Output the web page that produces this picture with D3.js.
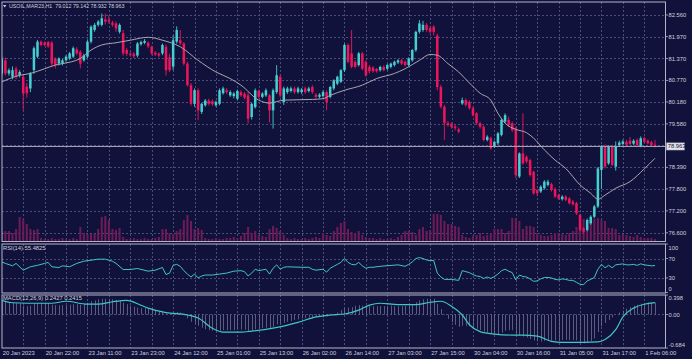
<!DOCTYPE html>
<html>
<head>
<meta charset="utf-8">
<script src="https://cdn.jsdelivr.net/npm/d3@7/dist/d3.min.js"></script>
<style>
html,body{margin:0;padding:0;background:#11123b;overflow:hidden;}
svg{display:block;}
</style>
</head>
<body>
<svg id="chart" width="692" height="359"></svg>
<script>
// ---------------- DATA ----------------
const symbolTitle = "USOIL,MAR23,H1";
const lastOHLC = [79.012, 79.142, 78.932, 78.963];

const opens = [
80.96,81.32,80.96,80.87,81.09,80.92,80.87,80.60,80.55,81.05,
81.42,81.83,81.80,81.82,81.80,81.37,81.23,81.23,
81.32,81.37,81.42,81.62,81.55,81.32,81.42,81.83,82.15,82.29,
82.29,82.44,82.42,82.35,82.33,82.10,82.06,81.60,81.50,
81.50,81.45,81.76,81.80,81.80,81.69,81.53,81.50,81.51,81.69,
81.40,81.15,81.83,81.87,81.78,81.23,80.64,80.13,80.50,79.91,
80.09,80.22,80.20,80.09,80.13,80.42,80.50,80.36,80.34,80.27,
80.45,80.41,80.36,79.77,80.04,80.48,80.32,80.36,80.36,79.95,
80.45,80.87,80.18,80.45,80.48,80.55,80.45,80.45,80.55,80.48,80.59,
80.38,80.32,80.34,80.45,80.32,80.55,80.68,80.73,81.05,81.74,
81.51,81.28,81.19,81.51,81.28,81.14,81.12,
81.08,81.05,81.14,81.09,81.14,81.19,81.26,81.32,81.28,81.19,
81.32,81.60,82.10,82.15,82.29,82.20,82.24,82.00,80.59,80.05,
79.60,79.58,79.51,79.43,80.14,80.23,80.18,80.01,79.87,79.60,
79.50,79.14,79.19,78.96,79.05,79.28,79.64,79.69,79.60,79.46,
78.14,78.77,78.68,78.59,78.27,77.77,77.73,77.82,77.91,
77.93,77.80,77.63,77.52,77.59,77.54,77.45,77.41,77.09,76.72,
76.68,76.86,77.04,77.32,78.32,78.96,78.50,78.96,78.41,79.00,79.03,79.09,
79.12,79.04,79.14,78.98,79.19,79.12,79.08,79.012];

const highs = [
81.42,81.40,81.10,81.15,81.15,81.05,80.95,80.70,81.00,81.70,
81.88,81.86,81.84,81.85,81.85,81.40,81.40,81.36,
81.46,81.55,81.70,81.68,81.60,81.50,81.88,82.28,82.34,82.42,
82.60,82.60,82.55,82.40,82.38,82.33,82.15,81.66,81.56,
81.54,81.82,81.86,81.90,81.84,81.72,81.57,81.54,81.78,81.75,
81.50,82.00,82.25,82.15,81.82,81.28,80.70,80.55,80.55,80.16,
80.26,80.27,80.25,80.22,80.55,80.60,80.56,80.50,80.45,80.52,
80.50,80.45,80.45,80.16,80.55,80.52,80.45,80.55,80.40,80.55,
81.19,80.92,80.60,80.60,80.60,80.60,80.60,80.56,80.60,80.60,80.64,
80.42,80.42,80.50,80.50,80.62,80.80,80.90,81.08,81.78,81.78,
82.15,81.32,81.55,81.55,81.32,81.19,81.16,
81.11,81.17,81.18,81.22,81.26,81.31,81.35,81.36,81.32,81.40,
81.63,82.13,82.42,82.40,82.34,82.26,82.28,82.05,80.65,80.10,
79.66,79.62,79.56,79.48,80.30,80.28,80.22,80.05,79.90,79.64,
79.54,79.27,79.23,79.12,79.36,79.73,79.87,79.78,79.64,79.50,
78.80,79.87,78.72,78.63,78.30,77.80,77.90,78.04,78.05,
77.97,77.84,77.67,77.63,77.63,77.58,77.50,77.45,77.13,76.76,
76.99,77.08,77.36,78.40,79.00,79.02,79.00,79.01,79.10,79.12,79.15,79.14,
79.22,79.16,79.18,79.24,79.23,79.16,79.12,79.142];

const lows = [
80.90,80.90,80.90,80.80,80.80,80.85,79.95,80.30,80.45,80.95,
81.38,81.70,81.70,81.66,81.15,81.10,81.18,81.18,
81.28,81.33,81.38,81.46,81.10,81.28,81.38,81.78,82.10,82.24,
82.25,82.30,82.32,82.24,82.10,82.05,81.45,81.44,81.42,
81.38,81.40,81.72,81.76,81.65,81.46,81.44,81.40,81.46,80.90,
81.00,81.05,81.78,81.74,81.18,80.60,80.08,80.05,79.68,79.85,
80.05,80.08,80.07,80.05,80.09,80.38,80.40,80.32,80.28,80.22,
80.32,80.25,79.59,79.70,80.00,80.28,80.28,80.32,79.62,79.45,
80.40,80.30,80.10,80.40,80.44,80.40,80.41,80.40,80.40,80.44,80.40,
80.28,80.28,80.30,79.95,80.28,80.50,80.64,80.70,81.00,81.24,
81.10,81.10,81.15,81.05,80.87,80.96,80.98,
80.98,81.01,81.02,81.05,81.10,81.15,81.22,81.19,81.15,81.15,
81.28,81.55,82.05,82.10,82.10,82.05,82.00,80.50,80.00,79.14,
79.50,79.45,79.40,79.32,80.10,80.05,79.97,79.78,79.55,79.45,
79.10,79.10,78.87,78.92,79.00,79.24,79.60,79.50,79.36,78.10,
78.10,78.46,78.50,78.14,77.64,77.60,77.69,77.78,77.87,
77.73,77.55,77.50,77.48,77.46,77.37,77.34,77.09,76.64,76.58,
76.64,76.82,77.00,77.28,77.80,78.36,78.46,78.42,78.30,78.96,79.00,78.98,
79.00,79.00,78.96,78.94,79.05,79.02,78.97,78.932];

const closes = [
81.35,80.96,81.05,81.05,80.87,81.00,80.41,80.42,80.96,81.65,
81.83,81.74,81.74,81.70,81.23,81.19,81.37,81.32,
81.42,81.51,81.65,81.51,81.23,81.45,81.83,82.24,82.29,82.38,
82.47,82.38,82.38,82.29,82.19,82.29,81.51,81.50,81.47,
81.43,81.78,81.82,81.85,81.70,81.51,81.48,81.45,81.74,81.05,
81.05,81.87,82.15,81.78,81.23,80.64,80.13,80.50,79.95,80.13,
80.22,80.13,80.12,80.18,80.50,80.55,80.45,80.45,80.41,80.48,
80.36,80.30,79.72,80.13,80.50,80.32,80.41,80.50,79.95,80.50,
80.91,80.36,80.55,80.55,80.55,80.45,80.55,80.52,80.45,80.55,80.45,
80.32,80.38,80.45,80.18,80.59,80.77,80.87,81.05,81.74,81.28,
81.14,81.14,81.51,81.09,80.91,81.02,81.02,
81.02,81.14,81.05,81.19,81.23,81.28,81.32,81.23,81.19,81.37,
81.60,82.10,82.33,82.29,82.15,82.10,82.10,80.59,80.05,79.60,
79.55,79.50,79.46,79.37,80.23,80.10,80.01,79.82,79.60,79.50,
79.14,79.23,78.91,79.09,79.32,79.69,79.82,79.55,79.41,78.18,
78.77,78.50,78.55,78.18,77.68,77.68,77.86,78.00,78.00,
77.77,77.59,77.54,77.59,77.50,77.41,77.38,77.13,76.68,76.63,
76.95,77.04,77.32,78.36,78.96,78.41,78.96,78.46,78.96,79.07,79.10,79.01,
79.03,79.12,79.00,79.19,79.09,79.05,79.00,78.963];

const volumes = [
10,10,10,8,12,24,22,17,12,11,12,3,
2,2,3,2,2,3,2,2,3,2,
14,8,7,7,7,12,24,25,21,12,11,13,4,2,
2,3,2,2,3,2,2,3,
4,12,12,8,7,10,12,21,26,20,12,13,11,3,2,
2,3,2,2,3,
3,4,3,5,8,14,8,
10,6,5,4,12,15,13,10,6,3,
2,3,2,2,3,2,3,4,3,8,6,5,
10,14,18,20,12,9,8,10,
6,4,3,3,2,3,2,2,3,2,4,6,
10,10,9,6,12,14,10,11,
27,27,26,20,17,17,15,14,
6,4,3,5,6,8,5,6,8,
12,12,12,8,10,23,23,20,12,
15,15,14,8,6,5,5,6,8,
8,7,6,8,10,14,25,22,12,20,
22,23,21,20,13,13,12,6,
7,6,5,4,6,4,3,3,3,2];

// moving average: [bar, price]
const maLine = [[0,80.73],[5,80.91],[8,80.96],[12,81.09],[15,81.19],[17,81.23],[22,81.37],[25,81.60],[28,81.74],[32,81.80],[36,81.87],[41,81.95],[45,81.87],[50,81.69],[55,81.32],[60,81.00],[64,80.82],[67,80.64],[72,80.23],[75,80.15],[79,80.23],[87,80.25],[90,80.27],[92,80.36],[96,80.50],[101,80.64],[105,80.82],[110,80.96],[113,81.09],[117,81.32],[120,81.48],[122,81.46],[125,81.23],[128,81.00],[131,80.70],[134,80.42],[137,80.23],[139,79.87],[141,79.60],[144,79.43],[147,79.34],[149,79.19],[152,78.87],[155,78.59],[158,78.36],[162,77.91],[165,77.68],[167,77.52],[169,77.63],[172,77.82],[176,78.00],[180,78.35],[183,78.64]];

// RSI(14): [bar, value]
const rsiLine = [[0,63],[1,60],[3,55],[4,60],[6,46],[8,53],[10,56],[12,60],[13,62],[14,53],[16,51.5],[17,55],[19,53],[21,60],[23,64.5],[25,66.6],[27,68.7],[29,68.7],[31,64.5],[32,60],[34,47.4],[36,47.4],[38,49.5],[41,44],[43,46],[45,51.5],[46,37],[47,40],[48,56],[49,58],[50,54],[51,45],[52,38],[53,32],[54,38],[55,30],[56,34],[57,36],[59,36],[61,38],[63,40],[65,44],[67,45],[68,43],[69,34],[70,40],[71,48],[72,45],[74,48],[75,38],[76,50],[77,57],[78,48],[79,52],[80,53],[84,52],[86,52],[87,48],[88,46],[90,48],[91,42],[92,50],[93,54],[94,58],[95,62],[96,70],[97,62],[98,58],[99,57],[100,62],[101,55],[102,50],[103,52],[104,52],[106,54],[111,57],[113,54],[114,58],[115,63],[116,70],[117,72],[118,70],[119,67],[120,66],[121,66],[122,40],[123,32],[124,27],[125,27],[126,27],[127,26],[128,25],[129,45],[130,43],[131,41],[132,37],[133,34],[134,33],[135,29],[136,32],[137,29],[138,33],[139,38],[140,45],[141,48],[142,44],[143,41],[144,26],[145,36],[146,33],[147,32],[148,28],[149,23],[150,24],[151,28],[152,31],[153,31],[154,30],[155,27],[156,26],[157,28],[158,27],[159,25],[160,25],[161,21],[162,17],[163,16],[164,24],[165,27],[166,31],[167,48],[168,58],[169,51],[170,56],[171,51],[172,57],[173,58],[174,59],[175,57],[176,57],[177,58],[178,56],[179,59],[180,57],[181,56],[182,55],[183,55.48]];

// MACD main (histogram), one per bar
const macdHist = [
0.27,0.26,0.25,0.24,0.23,0.22,0.18,0.17,0.18,0.21,
0.23,0.24,0.24,0.23,0.20,0.19,0.19,0.19,0.19,0.20,
0.21,0.21,0.20,0.21,0.24,0.27,0.29,0.31,0.32,0.32,
0.32,0.31,0.30,0.29,0.24,0.21,0.18,0.16,0.14,0.13,
0.13,0.12,0.10,0.08,0.06,0.05,0.02,0.01,0.03,0.05,
0.04,-0.01,-0.08,-0.15,-0.19,-0.23,-0.27,-0.30,-0.32,-0.33,
-0.33,-0.33,-0.32,-0.32,-0.32,-0.32,-0.31,-0.31,-0.31,-0.34,
-0.33,-0.30,-0.29,-0.28,-0.27,-0.28,-0.25,-0.20,-0.19,-0.17,
-0.15,-0.13,-0.11,-0.10,-0.08,-0.07,-0.06,-0.06,-0.05,-0.05,
-0.06,-0.04,-0.02,0.01,0.04,0.09,0.13,0.14,0.15,0.18,
0.19,0.18,0.17,0.17,0.17,0.17,0.17,0.17,0.17,0.18,
0.17,0.17,0.17,0.18,0.19,0.21,0.25,0.29,0.31,0.32,
0.32,0.32,0.22,0.11,-0.01,-0.09,-0.16,-0.21,-0.25,-0.23,
-0.23,-0.24,-0.26,-0.29,-0.32,-0.35,-0.37,-0.40,-0.41,-0.40,
-0.37,-0.33,-0.32,-0.32,-0.41,-0.43,-0.45,-0.47,-0.50,-0.53,
-0.55,-0.55,-0.54,-0.53,-0.53,-0.53,-0.53,-0.52,-0.52,-0.52,
-0.52,-0.53,-0.56,-0.59,-0.57,-0.54,-0.49,-0.36,-0.24,-0.17,
-0.11,-0.06,0.00,0.04,0.08,0.12,0.15,0.18,0.20,0.22,
0.23,0.24,0.245,0.2427];

// MACD signal: [bar, value]
const macdSignal = [[0,0.29],[3,0.24],[7,0.23],[14,0.23],[18,0.27],[24,0.21],[27,0.21],[31,0.26],[35,0.29],[39,0.19],[41,0.13],[46,0.04],[52,-0.01],[55,-0.07],[59,-0.28],[62,-0.36],[67,-0.36],[70,-0.34],[76,-0.28],[83,-0.16],[88,-0.05],[92,-0.01],[96,0.01],[100,0.09],[103,0.19],[106,0.23],[111,0.20],[116,0.20],[120,0.25],[123,0.27],[126,0.17],[129,-0.01],[131,-0.21],[134,-0.35],[138,-0.40],[143,-0.42],[146,-0.42],[150,-0.44],[154,-0.55],[157,-0.57],[163,-0.57],[167,-0.56],[169,-0.51],[172,-0.31],[174,-0.05],[177,0.13],[180,0.21],[183,0.2415]];

const priceTicks = [82.560,81.970,81.370,80.770,80.180,79.580,78.390,77.800,77.200,76.600];
const extraGrid = [78.990];
const timeTickBars = [0,12,24,36,48,60,72,84,96,108,120,132,144,156,168,180];
const timeTickLabels = ["20 Jan 2023","20 Jan 22:00","23 Jan 11:00","23 Jan 23:00","24 Jan 12:00","25 Jan 01:00","25 Jan 13:00","26 Jan 02:00","26 Jan 14:00","27 Jan 03:00","27 Jan 15:00","30 Jan 04:00","30 Jan 16:00","31 Jan 05:00","31 Jan 17:00","1 Feb 06:00"];
const rsiTicks = [100,70,30,0];
const rsiLevels = [70,30];
const macdTicks = [0.398,0.00,-0.684];
const macdTickLabels = ["0.398","0.00","-0.684"];
const rsiTitle = "RSI(14) 55.4825";
const macdTitle = "MACD(12,26,9) 0.2427 0.2415";

// ---------------- DRAW ----------------
const W = 692, H = 359, L = 2, R = 665.5;
const P = {main:[2,241.5], rsi:[244,293], macd:[295,348]};
const BG = "#11123b", GRID = "#4a4c7a", TXT = "#cfd0dc", FRAME = "#b4b4c8";
const UP = "#45cfd0", DN = "#f0145c", VOL = "#6e1c58", MA = "#a7a7b0", LINE = "#3fc6c6", HIST = "#6f7090";
const FONT = "'Liberation Sans', Arial, sans-serif";

const svg = d3.select("#chart");
const n = closes.length;
const x = d3.scaleLinear().domain([0, n - 1]).range([1.8, 655]);
const yP = d3.scaleLinear().domain([76.6, 82.56]).range([232.8, 15]);
const yV = d3.scaleLinear().domain([0, 30]).range([241, 211]);
const yR = d3.scaleLinear().domain([0, 100]).range([292.5, 244]);
const yM = d3.scaleLinear().domain([-0.684, 0.398]).range([348, 295]);

svg.append("rect").attr("width", W).attr("height", H).attr("fill", BG);

const defs = svg.append("defs");
Object.entries(P).forEach(([k, [t, b]]) => {
  defs.append("clipPath").attr("id", "clip-" + k).append("rect")
    .attr("x", L).attr("y", t).attr("width", R - L).attr("height", b - t);
});

// vertical grid in every panel
const vGridBars = d3.range(6, n, 6);
Object.values(P).forEach(([t, b]) => {
  svg.append("g").selectAll("line").data(vGridBars).join("line")
    .attr("x1", d => Math.round(x(d)) + 0.5).attr("x2", d => Math.round(x(d)) + 0.5)
    .attr("y1", t).attr("y2", b)
    .attr("stroke", GRID).attr("stroke-width", 1).attr("stroke-dasharray", "2,2");
});

// horizontal grids
function hgrid(vals, scale) {
  svg.append("g").selectAll("line").data(vals).join("line")
    .attr("x1", L).attr("x2", R)
    .attr("y1", d => Math.round(scale(d)) + 0.5).attr("y2", d => Math.round(scale(d)) + 0.5)
    .attr("stroke", GRID).attr("stroke-width", 1).attr("stroke-dasharray", "2,2");
}
hgrid(priceTicks.concat(extraGrid), yP);
hgrid(rsiLevels, yR);
hgrid([0], yM);

// volumes
const gMain = svg.append("g").attr("clip-path", "url(#clip-main)");
gMain.append("g").selectAll("rect").data(volumes).join("rect")
  .attr("x", (d, i) => x(i) - 1).attr("width", 2)
  .attr("y", d => yV(d)).attr("height", d => yV(0) - yV(d))
  .attr("fill", VOL);

// candles
const idx = d3.range(n);
const col = i => closes[i] >= opens[i] ? UP : DN;
gMain.append("g").selectAll("line").data(idx).join("line")
  .attr("x1", i => x(i)).attr("x2", i => x(i))
  .attr("y1", i => yP(highs[i])).attr("y2", i => yP(lows[i]))
  .attr("stroke", col).attr("stroke-width", 0.9);
gMain.append("g").selectAll("rect").data(idx).join("rect")
  .attr("x", i => x(i) - 1.25).attr("width", 2.5)
  .attr("y", i => yP(Math.max(opens[i], closes[i])))
  .attr("height", i => Math.max(1, Math.abs(yP(opens[i]) - yP(closes[i]))))
  .attr("fill", col);

// moving average
gMain.append("path").datum(maLine)
  .attr("d", d3.line().x(d => x(d[0])).y(d => yP(d[1])).curve(d3.curveMonotoneX))
  .attr("fill", "none").attr("stroke", MA).attr("stroke-width", 1);

// current price line
const last = closes[n - 1];
svg.append("line").attr("x1", L).attr("x2", R)
  .attr("y1", yP(last)).attr("y2", yP(last))
  .attr("stroke", "#a9a9b8").attr("stroke-width", 1);

// RSI
const gR = svg.append("g").attr("clip-path", "url(#clip-rsi)");
gR.append("path").datum(rsiLine)
  .attr("d", d3.line().x(d => x(d[0])).y(d => yR(d[1])))
  .attr("fill", "none").attr("stroke", LINE).attr("stroke-width", 1);

// MACD
const gM = svg.append("g").attr("clip-path", "url(#clip-macd)");
gM.append("g").selectAll("line").data(macdHist).join("line")
  .attr("x1", (d, i) => Math.round(x(i)) + 0.5).attr("x2", (d, i) => Math.round(x(i)) + 0.5)
  .attr("y1", yM(0)).attr("y2", d => yM(d))
  .attr("stroke", HIST).attr("stroke-width", 0.8);
gM.append("path").datum(macdSignal)
  .attr("d", d3.line().x(d => x(d[0])).y(d => yM(d[1])).curve(d3.curveMonotoneX))
  .attr("fill", "none").attr("stroke", LINE).attr("stroke-width", 1.2);

// frames
Object.values(P).forEach(([t, b]) => {
  svg.append("rect").attr("x", L).attr("y", t).attr("width", R - L).attr("height", b - t)
    .attr("fill", "none").attr("stroke", FRAME).attr("stroke-width", 1);
});

// right axis labels
const axT = svg.append("g").attr("font-family", FONT).attr("font-size", 5.8).attr("fill", TXT);
function rightLabels(vals, scale, fmt, adj) {
  vals.forEach((v, k) => {
    const yy = scale(v) + (adj ? adj(v, k) : 0);
    svg.append("line").attr("x1", R).attr("x2", R + 2.5).attr("y1", scale(v)).attr("y2", scale(v))
      .attr("stroke", FRAME).attr("stroke-width", 0.8);
    axT.append("text").attr("x", R + 3).attr("y", yy).attr("dy", "0.35em").text(fmt(v, k));
  });
}
rightLabels(priceTicks, yP, v => v.toFixed(3));
rightLabels(rsiTicks, yR, v => String(v), v => v === 100 ? 3.5 : (v === 0 ? -4 : 0));
rightLabels(macdTicks, yM, (v, k) => macdTickLabels[k], (v, k) => k === 0 ? 2.5 : (k === 2 ? -3 : 0));

// current price tag
const ly = yP(last);
svg.append("rect").attr("x", R + 1).attr("y", ly - 3.6).attr("width", 18).attr("height", 7.2)
  .attr("fill", "#e4e4ea").attr("stroke", "#9a9aa8").attr("stroke-width", 0.5);
svg.append("text").attr("x", R + 2.2).attr("y", ly).attr("dy", "0.35em")
  .attr("font-family", FONT).attr("font-size", 5.8).attr("fill", "#11123b").text(last.toFixed(3));

// time labels
svg.append("g").selectAll("text").data(timeTickBars).join("text")
  .attr("x", d => x(d) + 1).attr("y", 355)
  .attr("font-family", FONT).attr("font-size", 5.8).attr("fill", TXT)
  .text((d, k) => timeTickLabels[k]);

// titles
svg.append("path").attr("d", "M3,5 L6.4,5 L4.7,7.4 Z").attr("fill", TXT);
svg.append("text").attr("x", 9).attr("y", 8.2).attr("font-family", FONT).attr("font-size", 5.3)
  .attr("fill", TXT).attr("xml:space", "preserve")
  .text(symbolTitle + "  " + lastOHLC.map(v => v.toFixed(3)).join(" "));
svg.append("text").attr("x", 3).attr("y", 250.2).attr("font-family", FONT).attr("font-size", 5.8)
  .attr("fill", TXT).text(rsiTitle);
svg.append("text").attr("x", 3).attr("y", 300).attr("font-family", FONT).attr("font-size", 5.8)
  .attr("fill", TXT).text(macdTitle);
</script>
</body>
</html>
